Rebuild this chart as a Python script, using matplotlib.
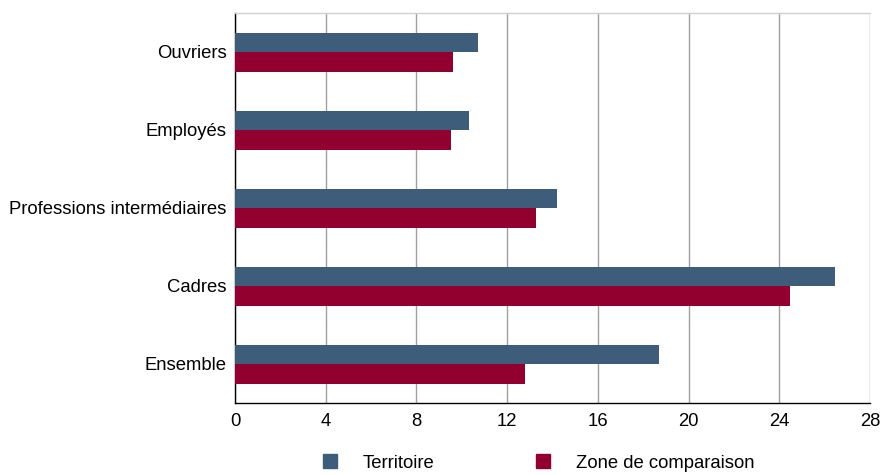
import matplotlib
matplotlib.use("Agg")
import matplotlib.pyplot as plt
import numpy as np
from matplotlib.patches import Patch

categories = ["Ouvriers", "Employés", "Professions intermédiaires", "Cadres", "Ensemble"]
territoire = [10.72, 10.31, 14.18, 26.44, 18.68]
zone = [9.60, 9.52, 13.27, 24.46, 12.77]
xticks = [0, 4, 8, 12, 16, 20, 24, 28]

plt.rcParams['font.family'] = ['Liberation Sans', 'DejaVu Sans']
FS = 13.3

fig = plt.figure(figsize=(8.83, 4.75), dpi=100)
ax = fig.add_axes([235/883, 1 - 403/475, (870-235)/883, (403-13)/475])

y = np.arange(len(categories))
h = 0.25
c_t = "#3d5d7b"
c_z = "#91002f"
ax.barh(y - h/2, territoire, height=h, color=c_t, label="Territoire", zorder=3)
ax.barh(y + h/2, zone, height=h, color=c_z, label="Zone de comparaison", zorder=3)

ax.set_ylim(len(categories) - 0.5, -0.5)
ax.set_xlim(0, 28)
ax.set_xticks(xticks)
ax.set_xticklabels([str(v) for v in xticks], fontsize=FS)
ax.set_yticks(y)
ax.set_yticklabels(categories, fontsize=FS)
ax.tick_params(axis='x', length=0, pad=7)
ax.tick_params(axis='y', length=0, pad=6)
ax.grid(axis='x', color='#a0a0a0', linewidth=1, zorder=0)

for s in ['left', 'bottom']:
    ax.spines[s].set_color('black')
    ax.spines[s].set_linewidth(1)
ax.spines['right'].set_visible(False)
ax.spines['top'].set_color('#d0d0d0')
ax.spines['top'].set_linewidth(1)

handles = [Patch(color=c_t, label="Territoire"), Patch(color=c_z, label="Zone de comparaison")]
fig.legend(handles=handles, loc='center', bbox_to_anchor=(539/883, 1 - 463/475),
           ncol=2, frameon=False, fontsize=FS, handlelength=0.76, handleheight=0.76,
           handletextpad=1.4, columnspacing=5.5, borderpad=0, borderaxespad=0)

fig.savefig("out.png", dpi=100)
